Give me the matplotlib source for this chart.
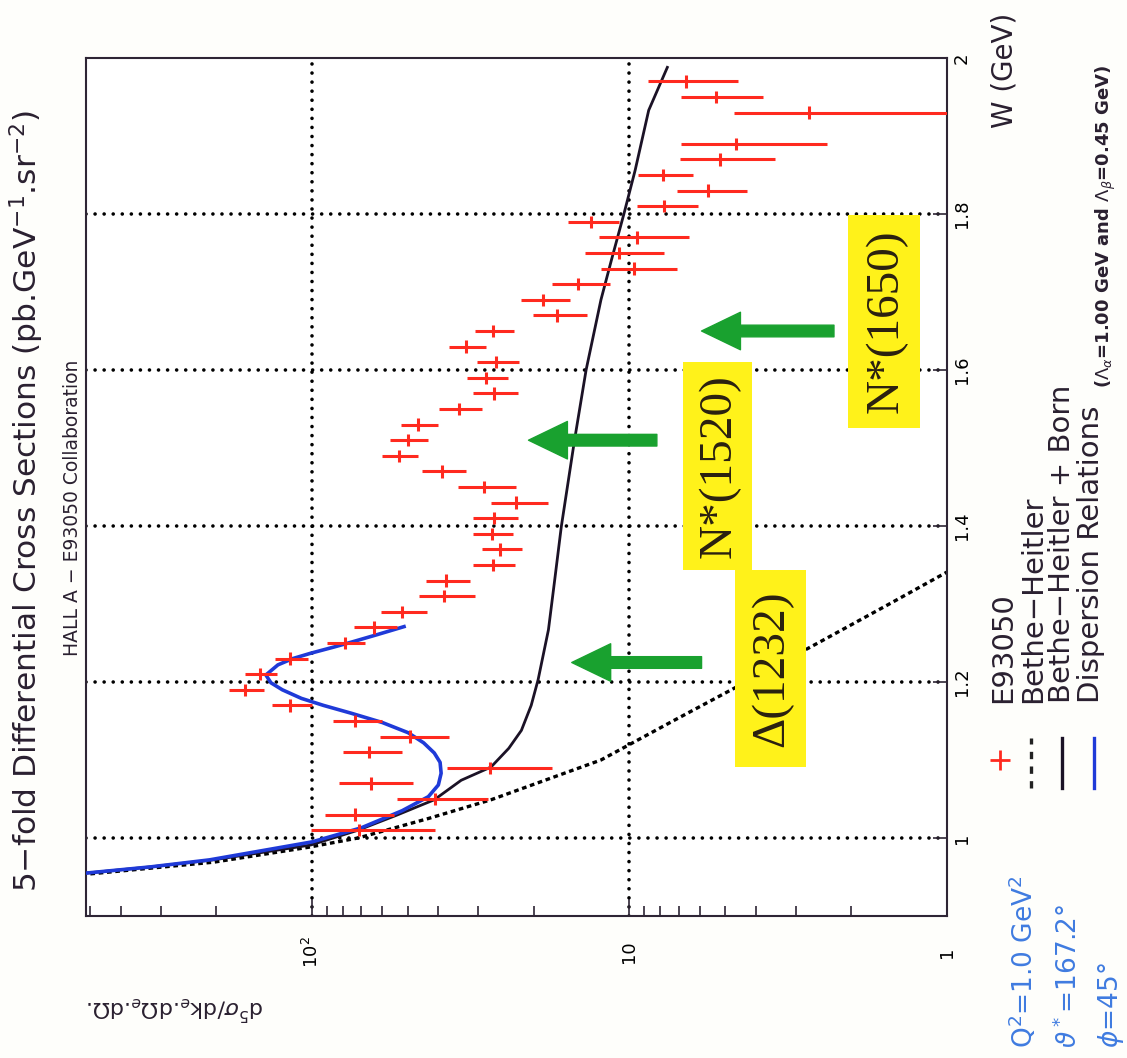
import matplotlib.pyplot as plt
import matplotlib.transforms as mtransforms
from matplotlib.patches import Rectangle
from matplotlib.lines import Line2D
from matplotlib.ticker import LogLocator, NullFormatter

# E93050 data points: W (GeV), 5-fold cross section (pb/GeV/sr^2), error
w_data = [1.01, 1.03, 1.05, 1.07, 1.09, 1.11, 1.13, 1.15, 1.17, 1.19,
          1.21, 1.23, 1.25, 1.27, 1.29, 1.31, 1.33, 1.35, 1.37, 1.39,
          1.41, 1.43, 1.45, 1.47, 1.49, 1.51, 1.53, 1.55, 1.57, 1.59,
          1.61, 1.63, 1.65, 1.67, 1.69, 1.71, 1.73, 1.75, 1.77, 1.79,
          1.81, 1.83, 1.85, 1.87, 1.89, 1.93, 1.95, 1.97]
sigma = [71, 73, 41, 65, 27.6, 66, 49, 73, 117, 162,
         146, 117, 79, 64, 52, 38.3, 37.8, 27.0, 25.5, 27.2,
         26.7, 22.7, 28.7, 38.9, 53.2, 49.8, 46.3, 34.4, 26.7, 28.3,
         26.3, 32.7, 26.9, 16.9, 18.7, 14.5, 9.7, 10.8, 9.5, 13.2,
         7.8, 5.67, 7.87, 5.2, 4.63, 2.72, 5.35, 6.66]
sigma_err = [30, 18, 13, 17, 10, 14, 12, 13, 17, 20,
             17, 14, 11, 10, 8.5, 7.6, 6, 4, 3.7, 4,
             4.3, 4.7, 6, 6.2, 6.8, 6.8, 6.2, 5.3, 4.3, 4.2,
             4, 4.4, 3.8, 3.3, 3.3, 3, 2.6, 3, 3, 2.4,
             1.7, 1.4, 1.55, 1.73, 2.25, 1.95, 1.55, 2.1]
w_halfbin = 0.008

# Bethe-Heitler
bh_w = [0.953, 0.969, 0.988, 1.0, 1.025, 1.049, 1.1, 1.15, 1.2, 1.25, 1.3, 1.34, 1.36]
bh_sigma = [530, 204, 103, 71.6, 43, 27.3, 12.3, 7.3, 4.3, 2.55, 1.52, 1.01, 0.82]

# Bethe-Heitler + Born
bhb_w = [0.955, 0.963, 0.972, 0.991, 1.010, 1.029, 1.049, 1.074, 1.091, 1.115,
         1.138, 1.17, 1.203, 1.267, 1.331, 1.399, 1.510, 1.600, 1.690, 1.741,
         1.801, 1.856, 1.933, 1.988]
bhb_sigma = [515, 322, 204, 101, 71.6, 54.3, 41.2, 33.9, 27.3, 24.0,
             21.9, 20.4, 19.4, 18.0, 17.2, 16.4, 14.9, 13.7, 12.3, 11.4,
             10.4, 9.6, 8.7, 7.6]

# Dispersion relations
dr_w = [0.955, 0.963, 0.972, 0.995, 1.013, 1.035, 1.053, 1.068, 1.083, 1.097,
        1.109, 1.122, 1.135, 1.148, 1.160, 1.170, 1.179, 1.190, 1.199, 1.209,
        1.222, 1.230, 1.237, 1.245, 1.251, 1.261, 1.271]
dr_sigma = [515, 322, 210, 100, 70, 52, 43, 40, 39.2, 39.5,
            41.2, 44.5, 49.8, 60, 75.3, 92, 108, 124, 134.7, 139.7,
            128, 115, 100.7, 85, 75.3, 62, 51.3]

sigma_ticks = [1, 10, 100]
sigma_ticklabels = ['1', '10', '10$^2$']
w_ticks = [1.0, 1.2, 1.4, 1.6, 1.8, 2.0]
w_ticklabels = ['1', '1.2', '1.4', '1.6', '1.8', '2']
sigma_grid = [10, 100]
w_grid = [1.0, 1.2, 1.4, 1.6, 1.8]

# resonance markers: W position, arrow tip / tail on the cross-section axis
res_names = ['\u0394(1232)', 'N*(1520)', 'N*(1650)']
arrow_w = [1.225, 1.51, 1.65]
arrow_tip = [15.2, 20.8, 5.93]
arrow_tail = [5.93, 8.2, 2.27]

W_PX, H_PX = 1127, 1058


def fx(px):
    return px / W_PX


def fy(py):
    return 1 - py / H_PX


RED = '#ff2a1f'
BLUE = '#1f3ad8'
LBLUE = '#3f7be0'
GREEN = '#19a12f'
YELLOW = '#fff21a'
INK = '#2a2030'

fig = plt.figure(figsize=(W_PX / 100, H_PX / 100), dpi=100)
fig.patch.set_facecolor('#fefefb')
ax = fig.add_axes([fx(86), fy(916), fx(947) - fx(86), fy(58) - fy(916)])
ax.set_xscale('log')
ax.set_xlim(515, 1)
ax.set_ylim(0.9, 2.0)
for s in ax.spines.values():
    s.set_color('#2e2535')
    s.set_linewidth(1.5)

dots = dict(color='black', lw=2.6, ls=(0, (0.01, 2.5)), dash_capstyle='round', zorder=1)
for v in sigma_grid:
    ax.axvline(v, **dots)
for w in w_grid:
    ax.axhline(w, **dots)

ax.plot(bh_sigma, bh_w, color='black', lw=2.4, ls=(0, (1.4, 1.1)), zorder=2)
ax.plot(bhb_sigma, bhb_w, color='#1b1226', lw=2.0, zorder=3)
ax.plot(dr_sigma, dr_w, color=BLUE, lw=2.6, zorder=3)
ax.errorbar(sigma, w_data, xerr=sigma_err, yerr=w_halfbin, fmt='none',
            ecolor=RED, elinewidth=2.2, capsize=0, zorder=4)

# ticks
ax.set_xticks(sigma_ticks)
ax.xaxis.set_minor_locator(LogLocator(base=10, subs=range(2, 10)))
ax.xaxis.set_minor_formatter(NullFormatter())
ax.tick_params(axis='x', which='both', direction='in', top=False, labelbottom=False)
ax.tick_params(axis='x', which='minor', length=7, width=1.2, color='#2e2535')
ax.tick_params(axis='x', which='major', length=12, width=1.2, color='#2e2535')
ax.set_yticks(w_ticks)
ax.tick_params(axis='y', direction='in', left=False, right=True, labelleft=False,
               length=10, width=1.2, color='#2e2535')

bx = mtransforms.blended_transform_factory(ax.transData, fig.transFigure)
for v, lab in zip(sigma_ticks, sigma_ticklabels):
    ax.text(v, fy(952), lab, transform=bx, rotation=90, ha='center', va='center',
            fontsize=13)
by = mtransforms.blended_transform_factory(fig.transFigure, ax.transData)
for w, lab in zip(w_ticks, w_ticklabels):
    ax.text(fx(962), w, lab, transform=by, rotation=90, ha='center', va='center',
            fontsize=13)

# resonance arrows and labels
for w, tip, tail in zip(arrow_w, arrow_tip, arrow_tail):
    ax.annotate('', xy=(tip, w), xytext=(tail, w),
                arrowprops=dict(arrowstyle='simple,head_length=1.4,head_width=1.35,tail_width=0.42',
                                mutation_scale=20, color=GREEN, shrinkA=0, shrinkB=0),
                zorder=6)

boxes = [(735, 570, 806, 767), (683, 362, 752, 570), (848, 215, 920, 428)]
for (x0, y0, x1, y1), name in zip(boxes, res_names):
    fig.add_artist(Rectangle((fx(x0), fy(y1)), fx(x1) - fx(x0), fy(y0) - fy(y1),
                             transform=fig.transFigure, facecolor=YELLOW,
                             edgecolor='none', zorder=5))
    fig.text(fx((x0 + x1) / 2 + 2), fy((y0 + y1) / 2), name, rotation=90,
             ha='center', va='center', fontsize=34, family='Liberation Serif',
             color='#2a2010', zorder=6)


def vtext(x, y, s, **kw):
    fig.text(fx(x), fy(y), s, rotation=90, rotation_mode='anchor', **kw)


vtext(37, 501, '5\u2212fold Differential Cross Sections (pb.GeV$^{-1}$.sr$^{-2}$)',
      ha='center', va='baseline', fontsize=22.5, color=INK)
vtext(78, 508, 'HALL A \u2212 E93050 Collaboration', ha='center', va='baseline',
      fontsize=13.5, color=INK)
vtext(1013, 128, 'W (GeV)', ha='left', va='baseline', fontsize=20, color=INK)
fig.text(fx(175), fy(1008), 'd$^5\\sigma$/dk$_e$.d$\\Omega_e$.d$\\Omega$.', rotation=180,
         ha='center', va='center', fontsize=16, color=INK)

# legend
fig.add_artist(Line2D([fx(1000)], [fy(760)], marker='+', ms=14, mew=2,
                      color=RED, transform=fig.transFigure))
fig.add_artist(Line2D([fx(1031)] * 2, [fy(788), fy(738)], ls=(0, (2.2, 2.2)), lw=2.4,
                      color='#222', transform=fig.transFigure))
fig.add_artist(Line2D([fx(1062)] * 2, [fy(788), fy(738)], lw=2.4,
                      color='#1b1226', transform=fig.transFigure))
fig.add_artist(Line2D([fx(1094)] * 2, [fy(788), fy(738)], lw=2.4,
                      color=BLUE, transform=fig.transFigure))
legend_labels = ['E93050', 'Bethe\u2212Heitler', 'Bethe\u2212Heitler + Born',
                 'Dispersion Relations']
for xb, lab in zip([1011, 1041, 1070, 1099], legend_labels):
    vtext(xb, 703, lab, ha='left', va='baseline', fontsize=21, color=INK)
vtext(1110, 388, '($\\Lambda_\\alpha$=1.00 GeV and $\\Lambda_\\beta$=0.45 GeV)',
      ha='left', va='baseline', fontsize=13, fontweight='bold', color=INK)

# kinematics
kin = ['Q$^2$=1.0 GeV$^2$', '$\\vartheta^*$=167.2\u00b0', '$\\phi$=45\u00b0']
for xb, lab in zip([1033, 1077, 1118], kin):
    vtext(xb, 1048, lab, ha='left', va='baseline', fontsize=19, color=LBLUE)

fig.savefig('out.png', dpi=100, facecolor=fig.get_facecolor())
